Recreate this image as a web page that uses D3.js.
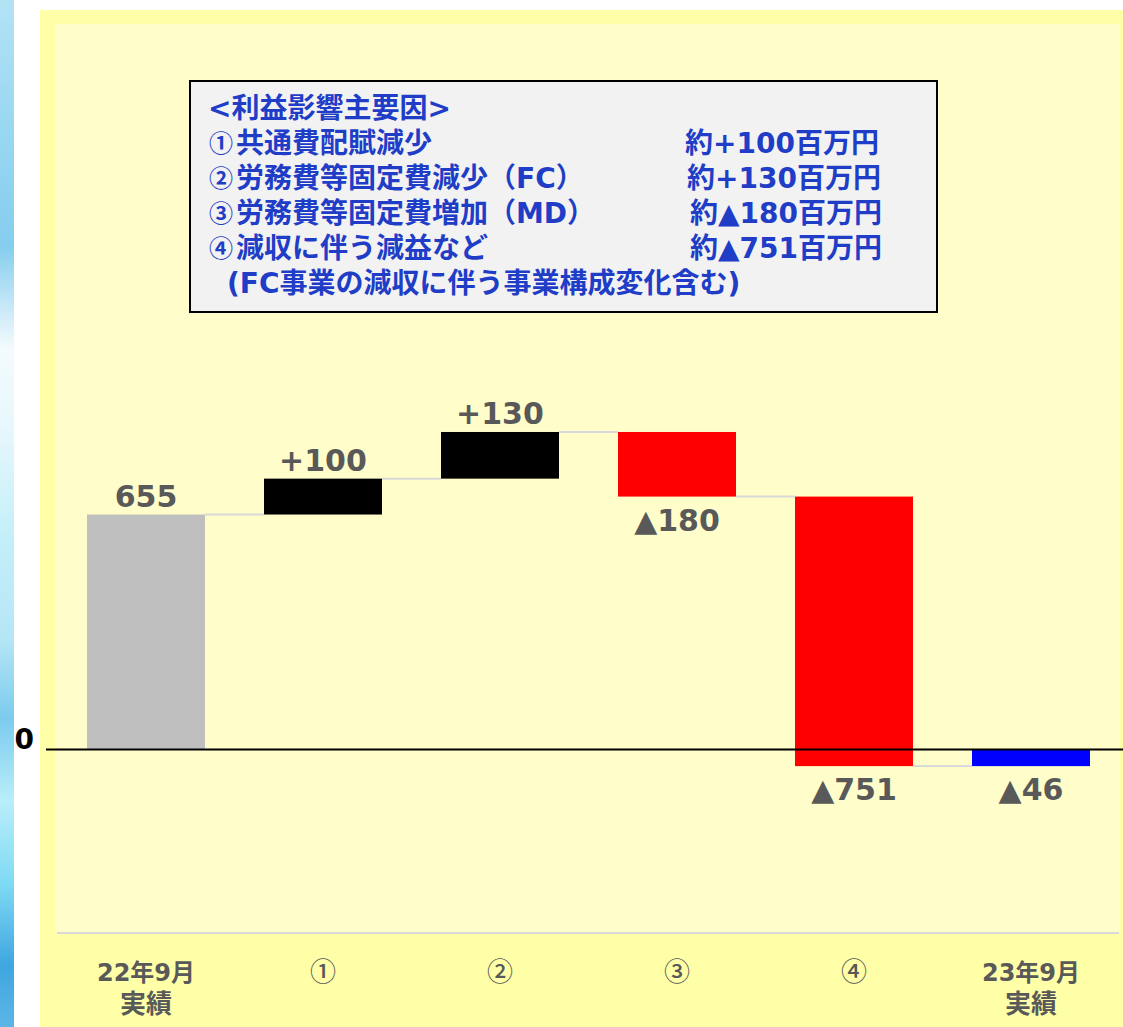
<!DOCTYPE html>
<html>
<head>
<meta charset="utf-8">
<script src="https://cdn.jsdelivr.net/npm/d3@7"></script>
<style>
  html, body { margin: 0; padding: 0; background: #ffffff; }
  svg { display: block; }
</style>
</head>
<body>
<script>
// ---- data ----
const catLine1 = ["22年9月", "①", "②", "③", "④", "23年9月"];
const catLine2 = ["実績", "", "", "", "", "実績"];
const kinds    = ["total", "delta", "delta", "delta", "delta", "total"];
const values   = [655, 100, 130, -180, -751, -46];
const barColors = ["#bfbfbf", "#000000", "#000000", "#ff0000", "#ff0000", "#0000ff"];
const yTickValues = [0];

const boxLines = [
  "<利益影響主要因>",
  "①共通費配賦減少",
  "②労務費等固定費減少（FC）",
  "③労務費等固定費増加（MD）",
  "④減収に伴う減益など",
  "(FC事業の減収に伴う事業構成変化含む)"
];
const boxAmounts = ["", "約+100百万円", "約+130百万円", "約▲180百万円", "約▲751百万円", ""];

// ---- layout ----
const W = 1123, H = 1027;
const svg = d3.select("body").append("svg").attr("width", W).attr("height", H);
const defs = svg.append("defs");

const sky = defs.append("linearGradient").attr("id", "sky")
  .attr("x1", 0).attr("y1", 0).attr("x2", 0).attr("y2", 1);
[[0, "#b3e2f5"], [0.12, "#9ad8f2"], [0.24, "#86cdee"], [0.34, "#f4fbfe"], [0.42, "#e6f7fc"],
 [0.52, "#c4eff9"], [0.62, "#b6e6f6"], [0.7, "#7ccbee"], [0.78, "#b9eefa"], [0.86, "#7fdaf4"],
 [0.94, "#3fa6e0"], [1, "#5cb6e6"]]
  .forEach(([o, c]) => sky.append("stop").attr("offset", o).attr("stop-color", c));

// background decoration strip and panels
svg.append("rect").attr("x", 0).attr("y", 0).attr("width", 14).attr("height", H).attr("fill", "url(#sky)");
svg.append("rect").attr("x", 40).attr("y", 10).attr("width", W - 40).attr("height", H - 10).attr("fill", "#ffffa8");
svg.append("rect").attr("x", 55).attr("y", 24).attr("width", 1065).attr("height", 909)
  .attr("rx", 4).attr("fill", "#fffdca");

// ---- scales ----
const x = d3.scaleBand().domain(d3.range(catLine1.length))
  .range([57.5, 1119.5]).paddingInner(1 / 3).paddingOuter(1 / 6);
const y = d3.scaleLinear().domain([-511, 2019]).range([933, 25]);

// running totals for the waterfall
let run = 0;
const bars = values.map((v, i) => {
  let lo, hi, end;
  if (kinds[i] === "total") { lo = Math.min(0, v); hi = Math.max(0, v); end = v; }
  else { const s = run; end = run + v; lo = Math.min(s, end); hi = Math.max(s, end); }
  run = end;
  return { i, v, lo, hi, end, kind: kinds[i] };
});

// plot-area bottom rule
svg.append("line").attr("x1", 57).attr("x2", 1119).attr("y1", 933).attr("y2", 933)
  .attr("stroke", "#d9d9d9").attr("stroke-width", 2);

// connectors
const links = bars.slice(0, -1).map((b, k) => ({ from: k, to: k + 1, level: b.end }));
svg.append("g").selectAll("line").data(links).join("line")
  .attr("x1", d => x(d.from) + x.bandwidth())
  .attr("x2", d => x(d.to))
  .attr("y1", d => y(d.level)).attr("y2", d => y(d.level))
  .attr("stroke", "#d9d9d9").attr("stroke-width", 2);

// bars
svg.append("g").selectAll("rect").data(bars).join("rect")
  .attr("x", d => x(d.i))
  .attr("width", x.bandwidth())
  .attr("y", d => y(d.hi))
  .attr("height", d => y(d.lo) - y(d.hi))
  .attr("fill", (d, i) => barColors[i]);

// zero line + tick label
const yAxis = d3.axisLeft(y).tickValues(yTickValues).tickSize(0).tickFormat(d3.format("d"));
const gy = svg.append("g").attr("transform", "translate(46,0)").call(yAxis);
gy.select(".domain").remove();
gy.selectAll("text")
  .attr("x", -12).attr("dy", "-0.05em")
  .attr("font-family", "'DejaVu Sans', sans-serif").attr("font-weight", "bold")
  .attr("font-size", 28).attr("fill", "#000");
svg.append("line").attr("x1", 46).attr("x2", W).attr("y1", y(0)).attr("y2", y(0))
  .attr("stroke", "#000").attr("stroke-width", 2);

// value labels
const fmt = d => d.kind === "total" && d.v >= 0 ? String(d.v)
  : (d.v >= 0 ? "+" + d.v : "▲" + Math.abs(d.v));
svg.append("g").selectAll("text").data(bars).join("text")
  .attr("x", d => x(d.i) + x.bandwidth() / 2)
  .attr("y", d => d.v >= 0 ? y(d.hi) - 8 : y(d.lo) + 34)
  .attr("text-anchor", "middle")
  .attr("font-family", "'DejaVu Sans', 'Noto Sans CJK JP', sans-serif")
  .attr("font-weight", "bold").attr("font-size", 30).attr("fill", "#595959")
  .text(fmt);

// category labels
const latinFirst = "'DejaVu Sans', 'Noto Sans CJK JP', sans-serif";
const gc = svg.append("g");
catLine1.forEach((t, i) => {
  const cx = x(i) + x.bandwidth() / 2;
  const circled = catLine2[i] === "";
  gc.append("text").attr("x", cx).attr("y", 981).attr("text-anchor", "middle")
    .attr("font-family", circled ? "'Noto Sans CJK JP', sans-serif" : latinFirst)
    .attr("font-weight", circled ? "500" : "bold")
    .attr("font-size", circled ? 26 : 24).attr("fill", "#595959").text(t);
  if (catLine2[i]) {
    gc.append("text").attr("x", cx).attr("y", 1013).attr("text-anchor", "middle")
      .attr("font-family", latinFirst).attr("font-weight", "bold")
      .attr("font-size", 26).attr("fill", "#595959").text(catLine2[i]);
  }
});

// explanatory box
const box = svg.append("g");
box.append("rect").attr("x", 190).attr("y", 81).attr("width", 747).attr("height", 231)
  .attr("fill", "#f2f2f2").attr("stroke", "#000").attr("stroke-width", 2);
const boxFont = latinFirst;
const cjkFont = "'Noto Sans CJK JP', sans-serif";
const boxSize = 28;
const amountX = [0, 685, 687, 690, 690, 0];
const circledRe = /^[①②③④]/;
const boxText = (xp, yp, s, fam, size) => box.append("text").attr("x", xp).attr("y", yp)
  .attr("font-family", fam).attr("font-weight", "bold")
  .attr("font-size", size || boxSize).attr("fill", "#1f3dc6").text(s);
boxLines.forEach((t, i) => {
  const by = 118 + i * 35;
  const x0 = i === boxLines.length - 1 ? 227 : 208;
  if (circledRe.test(t)) {
    // circled number set in the CJK face, followed by the item text
    boxText(x0 + 1, by - 1, t[0], cjkFont, 24);
    boxText(x0 + boxSize, by, t.slice(1), boxFont);
  } else {
    boxText(x0, by, t, boxFont);
  }
  if (boxAmounts[i]) boxText(amountX[i], by, boxAmounts[i], boxFont);
});
</script>
</body>
</html>
